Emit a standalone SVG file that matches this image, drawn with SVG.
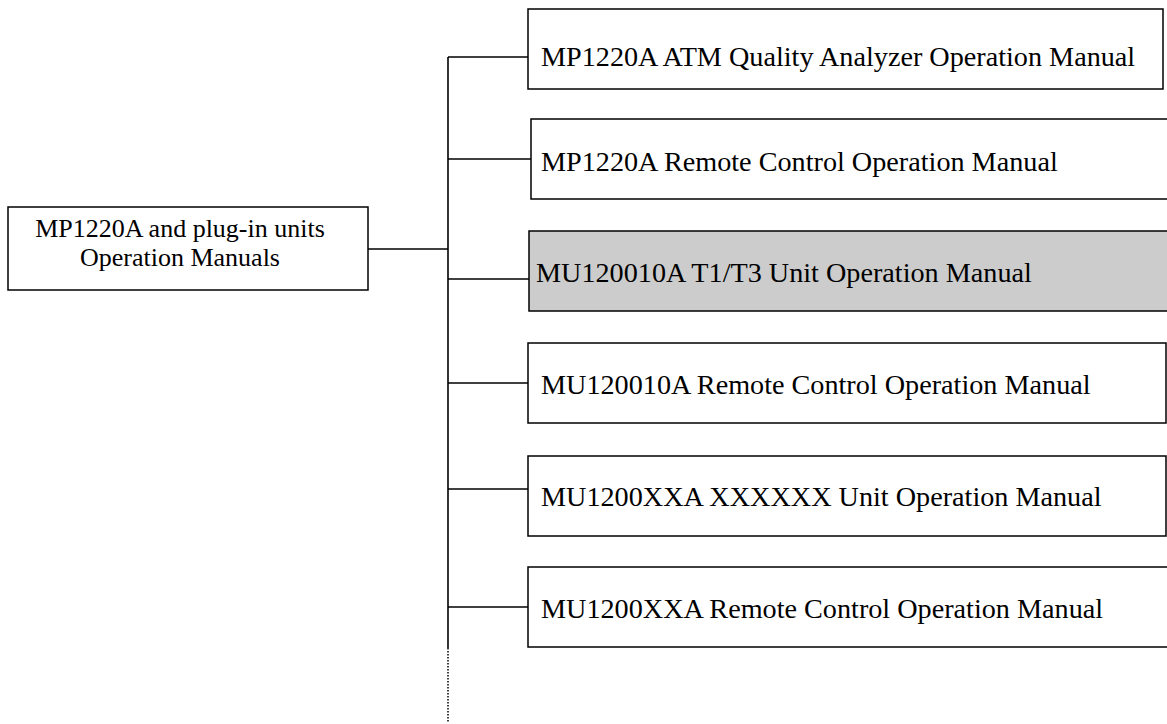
<svg xmlns="http://www.w3.org/2000/svg" width="1167" height="724" viewBox="0 0 1167 724">
<style>
.box{fill:#fff;stroke:#000;stroke-width:1.5}
.gray{fill:#cccccc}
.t{font-family:"Liberation Serif","Times New Roman",serif;font-size:28.2px;fill:#000}
.r{font-family:"Liberation Serif","Times New Roman",serif;font-size:26px;fill:#000}
.c{fill:none;stroke:#000;stroke-width:1.6}
</style>
<rect width="1167" height="724" fill="#fff"/>
<g id="connectors">
<line class="c" x1="368" y1="249" x2="448" y2="249"/>
<line class="c" x1="448" y1="57" x2="448" y2="648" stroke-width="2"/>
<line x1="448" y1="648" x2="448" y2="722" stroke="#000" stroke-width="1.5" stroke-dasharray="1.5,1.5"/>
<line class="c" x1="448" y1="57" x2="528" y2="57"/>
<line class="c" x1="448" y1="159" x2="531" y2="159"/>
<line class="c" x1="448" y1="279" x2="529" y2="279"/>
<line class="c" x1="448" y1="383" x2="528" y2="383"/>
<line class="c" x1="448" y1="489" x2="528" y2="489"/>
<line class="c" x1="448" y1="607" x2="528" y2="607"/>
</g>
<g id="root">
<rect class="box" x="8" y="207" width="360" height="83"/>
<text class="r" x="180" y="237" text-anchor="middle">MP1220A and plug-in units</text>
<text class="r" x="180" y="266" text-anchor="middle">Operation Manuals</text>
</g>
<g id="n1">
<rect class="box" x="528" y="9" width="635" height="80"/>
<text class="t" x="541" y="66">MP1220A ATM Quality Analyzer Operation Manual</text>
</g>
<g id="n2">
<rect class="box" x="531" y="119" width="650" height="80"/>
<text class="t" x="541" y="171">MP1220A Remote Control Operation Manual</text>
</g>
<g id="n3">
<rect class="box gray" x="529" y="231" width="650" height="80"/>
<text class="t" x="536" y="282">MU120010A T1/T3 Unit Operation Manual</text>
</g>
<g id="n4">
<rect class="box" x="528" y="343" width="638" height="80"/>
<text class="t" x="541" y="394">MU120010A Remote Control Operation Manual</text>
</g>
<g id="n5">
<rect class="box" x="528" y="456" width="638" height="80"/>
<text class="t" x="541" y="506">MU1200XXA XXXXXX Unit Operation Manual</text>
</g>
<g id="n6">
<rect class="box" x="528" y="567" width="650" height="80"/>
<text class="t" x="541" y="618">MU1200XXA Remote Control Operation Manual</text>
</g>
</svg>
